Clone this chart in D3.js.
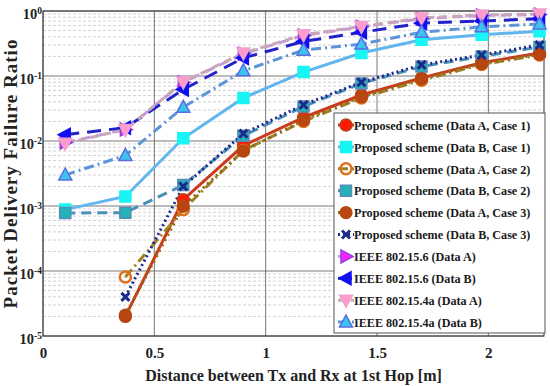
<!DOCTYPE html>
<html>
<head>
<meta charset="utf-8">
<script src="https://cdn.jsdelivr.net/npm/d3@7"></script>
<style>
  body { margin: 0; background: #fff; }
  svg { font-family: "Liberation Serif", "Times New Roman", serif; font-weight: bold; }
</style>
</head>
<body>
<div id="chart"></div>
<script>
// distances at 1st hop [m]
const distances = [0.1, 0.37, 0.63, 0.9, 1.17, 1.43, 1.7, 1.97, 2.23];

const propA1 = [null, 2.0e-5, 0.00125, 0.0085, 0.023, 0.051, 0.093, 0.16, 0.226];
const propB1 = [0.00088, 0.0014, 0.011, 0.046, 0.115, 0.226, 0.36, 0.43, 0.49];
const propA2 = [null, 8.1e-5, 0.00088, 0.0072, 0.02, 0.046, 0.086, 0.15, 0.21];
const propB2 = [0.00078, 0.00079, 0.0021, 0.012, 0.034, 0.077, 0.14, 0.2, 0.28];
const propA3 = [null, 2.1e-5, 0.001, 0.007, 0.021, 0.048, 0.09, 0.155, 0.215];
const propB3 = [null, 4.0e-5, 0.002, 0.013, 0.036, 0.08, 0.148, 0.21, 0.3];
const ieee156A = [0.0095, 0.015, 0.08, 0.22, 0.42, 0.57, 0.76, 0.85, 0.88];
const ieee156B = [0.0125, 0.016, 0.062, 0.19, 0.34, 0.47, 0.65, 0.7, 0.76];
const ieee154A = [0.0092, 0.015, 0.081, 0.226, 0.43, 0.58, 0.78, 0.87, 0.9];
const ieee154B = [0.003, 0.006, 0.033, 0.12, 0.25, 0.31, 0.47, 0.57, 0.63];

const xTicks = [0, 0.5, 1, 1.5, 2];
const yTicks = [1, 0.1, 0.01, 0.001, 0.0001, 0.00001];
const yTickExp = ['0', '-1', '-2', '-3', '-4', '-5'];

const series = [
    {name: 'Proposed scheme (Data A, Case 1)', values: propA1, line: '#cc3a1c', dash: null, marker: 'circle', fill: '#ff1a00', stroke: '#b5431e'},
    {name: 'Proposed scheme (Data B, Case 1)', values: propB1, line: '#62b6ee', dash: null, marker: 'square', fill: '#19f4f4', stroke: '#19f4f4'},
    {name: 'Proposed scheme (Data A, Case 2)', values: propA2, line: '#a08226', dash: '10,4,2,4', marker: 'ocircle', fill: 'none', stroke: '#e0701c'},
    {name: 'Proposed scheme (Data B, Case 2)', values: propB2, line: '#4a90b8', dash: '10,6', marker: 'square', fill: '#22b2b8', stroke: '#5a8ab8'},
    {name: 'Proposed scheme (Data A, Case 3)', values: propA3, line: '#8e6a14', dash: '2,4', marker: 'circle', fill: '#b84610', stroke: '#b84610'},
    {name: 'Proposed scheme (Data B, Case 3)', values: propB3, line: '#1c2a8c', dash: '2,3', marker: 'x', fill: '#1c2a8c', stroke: '#1c2a8c'},
    {name: 'IEEE 802.15.6 (Data A)', values: ieee156A, line: '#c49ad8', dash: '10,6', marker: 'tright', fill: '#ff20ff', stroke: '#9040e0'},
    {name: 'IEEE 802.15.6 (Data B)', values: ieee156B, line: '#2222c8', dash: '14,8', marker: 'tleft', fill: '#1010f0', stroke: '#1010f0'},
    {name: 'IEEE 802.15.4a (Data A)', values: ieee154A, line: '#c8a8b8', dash: '8,5', marker: 'tdown', fill: '#ff9ccc', stroke: '#f0a0d0'},
    {name: 'IEEE 802.15.4a (Data B)', values: ieee154B, line: '#5c94d8', dash: '10,4,2,4', marker: 'tup', fill: '#3cc4f0', stroke: '#5a6ee0'}
];

const width = 550, height = 386;
const margin = {left: 43, right: 6, top: 11, bottom: 50};

let svg = d3.select('#chart').append('svg')
    .attr('width', width)
    .attr('height', height);

let x = d3.scaleLinear().domain([0, 2.25]).range([margin.left, width - margin.right]);
let y = d3.scaleLog().domain([1e-5, 1]).range([height - margin.bottom, margin.top]);

// minor grid
let minor = [];
for (let e = -5; e < 0; e++) {
    for (let k = 2; k <= 9; k++) minor.push(k * Math.pow(10, e));
}
svg.append('g').selectAll('line').data(minor).enter().append('line')
    .attr('x1', x(0)).attr('x2', x(2.25))
    .attr('y1', d => y(d)).attr('y2', d => y(d))
    .attr('stroke', '#c8c8c8').attr('stroke-width', 0.8)
    .attr('stroke-dasharray', '3,2');

// major grid
svg.append('g').selectAll('line').data(yTicks).enter().append('line')
    .attr('x1', x(0)).attr('x2', x(2.25))
    .attr('y1', d => y(d)).attr('y2', d => y(d))
    .attr('stroke', '#555').attr('stroke-width', 0.8);
svg.append('g').selectAll('line').data(xTicks).enter().append('line')
    .attr('x1', d => x(d)).attr('x2', d => x(d))
    .attr('y1', y(1)).attr('y2', y(1e-5))
    .attr('stroke', '#555').attr('stroke-width', 0.8);

// frame
svg.append('rect')
    .attr('x', x(0)).attr('y', y(1))
    .attr('width', x(2.25) - x(0)).attr('height', y(1e-5) - y(1))
    .attr('fill', 'none').attr('stroke', '#333').attr('stroke-width', 1);

// axes via d3
let xAxis = svg.append('g')
    .attr('transform', 'translate(0,' + y(1e-5) + ')')
    .call(d3.axisBottom(x).tickValues(xTicks).tickSize(0).tickPadding(11).tickFormat(d => d));
xAxis.select('.domain').remove();
xAxis.selectAll('text').attr('font-size', 15).attr('fill', '#222')
    .attr('font-family', '"Liberation Serif", serif').attr('font-weight', 'bold');

let yAxis = svg.append('g')
    .attr('transform', 'translate(' + x(0) + ',0)')
    .call(d3.axisLeft(y).tickValues(yTicks).tickSize(0).tickPadding(3).tickFormat(''));
yAxis.select('.domain').remove();
yAxis.selectAll('.tick text').each(function (d, i) {
    let t = d3.select(this)
        .attr('font-size', 14.5).attr('fill', '#222')
        .attr('font-family', '"Liberation Serif", serif').attr('font-weight', 'bold')
        .attr('dy', '0.55em').attr('x', -1);
    t.append('tspan').text('10');
    t.append('tspan').attr('dy', '-0.6em').attr('font-size', 9.5).text(yTickExp[i]);
});

// lines
let lineGen = d3.line()
    .defined(d => d[1] != null)
    .x(d => x(d[0]))
    .y(d => y(d[1]));

let plot = svg.append('g');

function markerPath(type) {
    const s = 9;
    if (type === 'square') return 'M' + (-s / 2 - 1) + ',' + (-s / 2 - 1) + 'h' + (s + 2) + 'v' + (s + 2) + 'h' + (-s - 2) + 'Z';
    if (type === 'tup') return 'M0,-7L6.5,5L-6.5,5Z';
    if (type === 'tdown') return 'M0,7L6.5,-5L-6.5,-5Z';
    if (type === 'tright') return 'M7,0L-5,-6.5L-5,6.5Z';
    if (type === 'tleft') return 'M-7,0L5,-6.5L5,6.5Z';
    if (type === 'x') return 'M-4,-4L4,4M-4,4L4,-4';
    return d3.symbol().type(d3.symbolCircle).size(110)();
}

series.forEach(s => {
    let pts = distances.map((d, i) => [d, s.values[i]]);
    plot.append('path')
        .datum(pts)
        .attr('d', lineGen)
        .attr('fill', 'none')
        .attr('stroke', s.line)
        .attr('stroke-width', 3)
        .attr('stroke-dasharray', s.dash);
});

function drawMarker(g, s) {
    if (s.marker === 'ocircle') {
        g.append('circle').attr('r', 5.5).attr('fill', 'none')
            .attr('stroke', s.stroke).attr('stroke-width', 2.5);
    } else if (s.marker === 'x') {
        g.append('path').attr('d', markerPath('x'))
            .attr('stroke', s.stroke).attr('stroke-width', 3).attr('fill', 'none');
    } else {
        g.append('path').attr('d', markerPath(s.marker))
            .attr('fill', s.fill).attr('stroke', s.stroke).attr('stroke-width', 1.5);
    }
}

series.forEach(s => {
    distances.forEach((d, i) => {
        if (s.values[i] == null) return;
        let g = plot.append('g').attr('transform', 'translate(' + x(d) + ',' + y(s.values[i]) + ')');
        drawMarker(g, s);
    });
});

// legend
let lg = svg.append('g').attr('transform', 'translate(334,113)');
lg.append('rect')
    .attr('width', 211).attr('height', 220)
    .attr('fill', '#fff').attr('stroke', '#555').attr('stroke-width', 1);
series.forEach((s, i) => {
    let row = lg.append('g').attr('transform', 'translate(0,' + (12 + i * 21.9) + ')');
    row.append('line').attr('x1', 4).attr('x2', 20).attr('stroke', s.line)
        .attr('stroke-width', 3).attr('stroke-dasharray', s.dash);
    let m = row.append('g').attr('transform', 'translate(12,0)');
    drawMarker(m, s);
    // the original face is narrower than Times, squeeze it a bit
    row.append('text')
        .attr('transform', 'translate(20,0) scale(0.9,1)')
        .attr('dy', '0.35em')
        .attr('font-size', 13.5).attr('fill', '#1a1a1a')
        .text(s.name);
});

// axis titles
svg.append('text')
    .attr('x', (x(0) + x(2.25)) / 2).attr('y', 381)
    .attr('text-anchor', 'middle').attr('font-size', 16).attr('fill', '#222')
    .text('Distance between Tx and Rx at 1st Hop [m]');

svg.append('text')
    .attr('transform', 'translate(17,' + ((y(1) + y(1e-5)) / 2) + ') rotate(-90)')
    .attr('text-anchor', 'middle').attr('font-size', 19).attr('fill', '#222')
    .attr('letter-spacing', 1)
    .text('Packet Delivery Failure Ratio');
</script>
</body>
</html>
